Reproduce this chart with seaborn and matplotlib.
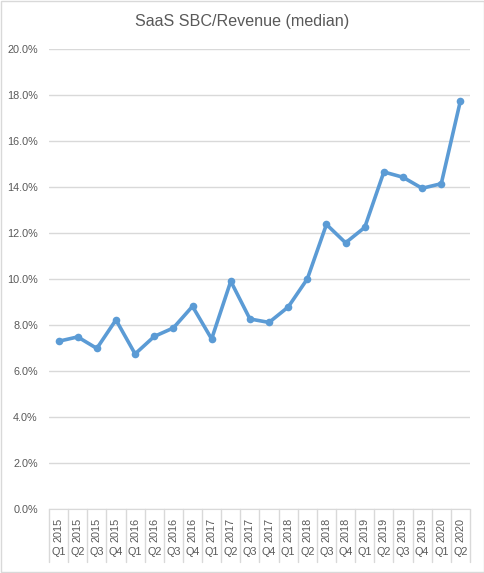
"""SaaS SBC/Revenue (median) - line chart in Excel style."""

import matplotlib
matplotlib.use("Agg")

import matplotlib.pyplot as plt
import pandas as pd
import seaborn as sns
from matplotlib.patches import Rectangle
from matplotlib.ticker import FuncFormatter, MultipleLocator

years = ["2015"] * 4 + ["2016"] * 4 + ["2017"] * 4 + ["2018"] * 4 + ["2019"] * 4 + ["2020"] * 2
quarters = ["Q1", "Q2", "Q3", "Q4"] * 5 + ["Q1", "Q2"]
sbc_ratio = [7.29, 7.48, 6.98, 8.22, 6.74, 7.50, 7.87, 8.81, 7.39, 9.90, 8.26, 8.11,
             8.78, 10.00, 12.37, 11.57, 12.24, 14.65, 14.42, 13.94, 14.14, 17.74]

df = pd.DataFrame({"year": years, "quarter": quarters, "value": sbc_ratio})
df["period"] = df["year"] + " " + df["quarter"]

sns.set_style("white")
plt.rcParams["font.family"] = ["Liberation Sans", "DejaVu Sans"]

text_color = "#595959"
grid_color = "#D9D9D9"
line_color = "#5B9BD5"

fig = plt.figure(figsize=(4.85, 5.73), dpi=100)
ax = fig.add_axes([0.101, 0.1117, 0.868, 0.803])

sns.lineplot(data=df, x="period", y="value", color=line_color, linewidth=2.6,
             marker="o", markersize=5.5, markeredgewidth=0, ax=ax)

ax.set_ylim(0, 20)
ax.set_xlim(-0.5, len(df) - 0.5)
ax.yaxis.set_major_locator(MultipleLocator(2))
ax.yaxis.set_major_formatter(FuncFormatter(lambda v, _: f"{v:.1f}%"))
ax.grid(axis="y", color=grid_color, linewidth=1)
ax.set_axisbelow(True)
for side in ["left", "right", "top"]:
    ax.spines[side].set_visible(False)
ax.spines["bottom"].set_color(grid_color)
ax.tick_params(axis="y", length=0, labelsize=7.8, labelcolor=text_color, pad=8)
ax.set_xticks([])
ax.set_xlabel("")
ax.set_ylabel("")

# multi-level category labels (year / quarter)
trans = ax.get_xaxis_transform()
for i, row in df.iterrows():
    ax.text(i, -0.046, row["year"], rotation=90, ha="center", va="center",
            fontsize=7.8, color=text_color, transform=trans)
    ax.text(i, -0.093, row["quarter"], ha="center", va="center",
            fontsize=7.8, color=text_color, transform=trans)
for i in range(len(df) + 1):
    ax.plot([i - 0.5, i - 0.5], [0, -0.115], color=grid_color, linewidth=1,
            transform=trans, clip_on=False)

fig.text(0.5, 0.962, "SaaS SBC/Revenue (median)", ha="center", va="center",
         fontsize=11.6, color=text_color)

fig.patches.append(Rectangle((0.002, 0.002), 0.996, 0.996, transform=fig.transFigure,
                             fill=False, edgecolor=grid_color, linewidth=1))

fig.savefig("out.png", dpi=100)
plt.close(fig)
